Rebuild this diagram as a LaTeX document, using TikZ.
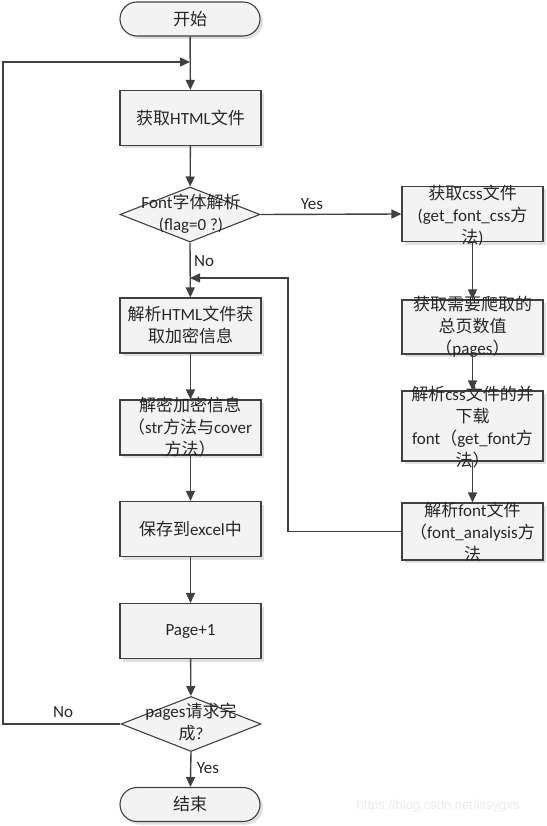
\documentclass[tikz,border=0pt]{standalone}
\usepackage{fontspec}
\setmainfont{Carlito}
\newfontfamily\cjk{Noto Sans CJK SC}
\newfontfamily\wmfont{Liberation Sans}
\newcommand\zh[1]{{\cjk #1}}
\usetikzlibrary{arrows.meta,shapes.geometric,shadows}
\definecolor{ln}{HTML}{404040}
\definecolor{bx}{HTML}{F3F3F3}
\begin{document}
\begin{tikzpicture}[x=1pt,y=-1pt,
  every node/.style={font=\fontsize{17}{22}\selectfont, text=black!85},
  boxsh/.style={drop shadow={shadow xshift=3pt,shadow yshift=-3pt,fill=black!12,opacity=1}},
  procbox/.style={draw=ln, line width=1.1pt, fill=bx, minimum width=141pt, minimum height=55pt, inner sep=0pt, boxsh},
  termbox/.style={draw=ln, line width=1.1pt, fill=bx, rounded corners=17pt, minimum width=140pt, minimum height=34pt, inner sep=0pt, boxsh},
  decbox/.style={draw=ln, line width=1.1pt, fill=bx, diamond, minimum width=140pt, minimum height=55pt, inner sep=0pt},
  txt/.style={align=center, inner sep=0pt},
  arr/.style={draw=ln, line width=1.4pt, -{Triangle[width=9pt,length=10pt]}},
  lin/.style={draw=ln, line width=1.4pt},
  lbl/.style={inner sep=0pt}
]
\useasboundingbox (0,0) rectangle (546,826);

% left column
\node[termbox] (start) at (190,19) {\zh{开始}};
\node[procbox] (html) at (190.5,118) {};
\node[txt] (htmlt) at (html) {\zh{获取}HTML\zh{文件}};
\node[decbox] (d1) at (190,214.5) {};
\node[txt] (d1t) at (191,214) {Font\zh{字体解析}\\(flag=0 ?)};
\node[procbox] (parse) at (190.5,325.5) {};
\node[txt] (parset) at (parse) {\zh{解析}HTML\zh{文件获}\\\zh{取加密信息}};
\node[procbox] (dec) at (190.5,427.5) {};
\node[txt] (dect) at (190,427) {\zh{解密加密信息}\\\zh{（}str\zh{方法与}cover\\\zh{方法）}};
\node[procbox] (save) at (190.5,529) {};
\node[txt] (savet) at (save) {\zh{保存到}excel\zh{中}};
\node[procbox] (page) at (190.5,631) {};
\node[txt] (paget) at (page) {Page+1};
\node[decbox] (d2) at (191,724) {};
\node[txt] (d2t) at (191,722.5) {pages\zh{请求完}\\\zh{成}?};
\node[termbox] (stop) at (190,804.5) {\zh{结束}};

% right column
\node[procbox] (r1) at (472.5,214) {};
\node[txt] (r1t) at (472.5,215) {\zh{获取}css\zh{文件}\\(get\_font\_css\zh{方}\\\zh{法})};
\node[procbox, minimum height=54pt] (r2) at (472.5,327) {};
\node[txt] (r2t) at (472.5,327) {\zh{获取需要爬取的}\\\zh{总页数值}\\\zh{（}pages\zh{）}};
\node[procbox, minimum height=70pt] (r3) at (472.5,426) {};
\node[txt] (r3t) at (472.5,427.5) {\zh{解析}css\zh{文件的并}\\\zh{下载}\\font\zh{（}get\_font\zh{方}\\\zh{法）}};
\node[procbox, minimum height=57pt] (r4) at (472.5,531.5) {};
\node[txt] (r4t) at (472.5,532) {\zh{解析}font\zh{文件}\\\zh{（}font\_analysis\zh{方}\\\zh{法}};

% helper coordinates
\coordinate (lpA) at (3,724);
\coordinate (lpB) at (3,62);
\coordinate (lpC) at (190,62);
\coordinate (rbA) at (288,531.5);
\coordinate (rbB) at (288,278);
\coordinate (rbC) at (190,278);

% connectors
\draw[arr] (start) -- (html);
\draw[arr] (html) -- (d1);
\draw[arr] (d1.east) -- (r1.west);
\draw[arr] (d1.south) -- (parse);
\draw[arr] (parse) -- (dec);
\draw[arr] (dec) -- (save);
\draw[arr] (save) -- (page);
\draw[arr] (page) -- (d2);
\draw[arr] (d2.south) -- (stop);
\draw[arr] (r1) -- (r2);
\draw[arr] (r2) -- (r3);
\draw[arr] (r3) -- (r4);
\draw[arr] (d2.west) -- (lpA) -- (lpB) -- (lpC);
\draw[arr] (r4.west) -- (rbA) -- (rbB) -- (rbC);

% labels
\node[lbl] (yes1) at (312,204) {Yes};
\node[lbl] (no1) at (204,261) {No};
\node[lbl] (no2) at (63,712) {No};
\node[lbl] (yes2) at (208,768) {Yes};

% watermark
\node[lbl, text=black!8, font=\fontsize{13}{15}\selectfont\wmfont] (wm) at (438,806) {https://blog.csdn.net/litsygxs};
\end{tikzpicture}
\end{document}
